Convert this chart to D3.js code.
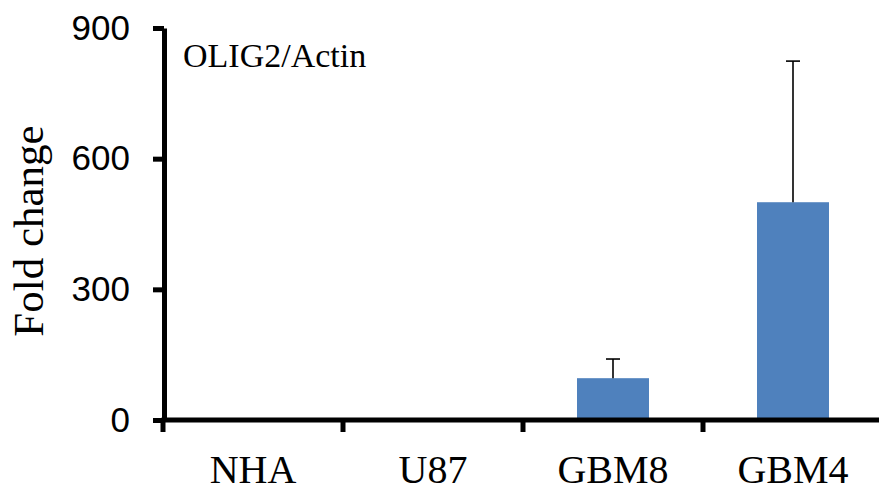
<!DOCTYPE html>
<html>
<head>
<meta charset="utf-8">
<script src="https://cdn.jsdelivr.net/npm/d3@7"></script>
<style>
html,body{margin:0;padding:0;background:#fff;}
svg{display:block;}
</style>
</head>
<body>
<svg id="chart" width="879" height="492"></svg>
<script>
const categories = ["NHA", "U87", "GBM8", "GBM4"];
const values = [1, 1, 96, 500];
const errors = [0, 0, 44, 324];
const yTicks = [0, 300, 600, 900];
const yLabel = "Fold change";
const panelLabel = "OLIG2/Actin";

const svg = d3.select("#chart");
const x = d3.scaleBand().domain(categories).range([163, 883]).paddingInner(0.6).paddingOuter(0.3);
const y = d3.scaleLinear().domain([0, 900]).range([420, 28]);
const step = x.step();

// bars
svg.append("g").selectAll("rect").data(categories).join("rect")
  .attr("x", d => x(d))
  .attr("width", x.bandwidth())
  .attr("y", (d, i) => y(values[i]))
  .attr("height", (d, i) => y(0) - y(values[i]))
  .attr("fill", "#4F81BD");

// error bars
const eb = svg.append("g").attr("stroke", "#000").attr("stroke-width", 1.6);
categories.forEach((c, i) => {
  if (errors[i] <= 0) return;
  const cx = x(c) + x.bandwidth() / 2;
  eb.append("line").attr("x1", cx).attr("x2", cx).attr("y1", y(values[i])).attr("y2", y(values[i] + errors[i]));
  eb.append("line").attr("x1", cx - 7).attr("x2", cx + 7).attr("y1", y(values[i] + errors[i])).attr("y2", y(values[i] + errors[i]));
});

// y axis
const yAxis = d3.axisLeft(y).tickValues(yTicks).tickSize(11).tickPadding(23).tickSizeOuter(0);
const gy = svg.append("g").attr("transform", "translate(164,0)").call(yAxis);
gy.select(".domain").attr("stroke", "#000").attr("stroke-width", 5);
gy.selectAll(".tick line").attr("stroke", "#000").attr("stroke-width", 5);
gy.selectAll(".tick text").attr("font-family", "'Liberation Sans', Arial, sans-serif").attr("font-size", 35).attr("fill", "#000");

// x axis line and boundary ticks
const gx = svg.append("g");
gx.append("line").attr("x1", 161.5).attr("x2", 883).attr("y1", 420).attr("y2", 420).attr("stroke", "#000").attr("stroke-width", 5);
const bounds = d3.range(categories.length + 1).map(i => x.range()[0] + i * step);
gx.selectAll("line.tk").data(bounds).join("line").attr("class", "tk")
  .attr("x1", d => d).attr("x2", d => d).attr("y1", 420).attr("y2", 432)
  .attr("stroke", "#000").attr("stroke-width", 5);
gx.selectAll("text").data(categories).join("text")
  .attr("x", d => x(d) + x.bandwidth() / 2)
  .attr("y", 483)
  .attr("text-anchor", "middle")
  .attr("font-family", "'Liberation Serif', 'Times New Roman', serif")
  .attr("font-size", 40)
  .attr("fill", "#000")
  .text(d => d);

// y label
svg.append("text")
  .attr("transform", "translate(43,231) rotate(-90)")
  .attr("text-anchor", "middle")
  .attr("font-family", "'Liberation Serif', 'Times New Roman', serif")
  .attr("font-size", 43)
  .attr("fill", "#000")
  .text(yLabel);

// panel label
svg.append("text")
  .attr("x", 183).attr("y", 67)
  .attr("font-family", "'Liberation Serif', 'Times New Roman', serif")
  .attr("font-size", 34)
  .attr("fill", "#000")
  .text(panelLabel);
</script>
</body>
</html>
